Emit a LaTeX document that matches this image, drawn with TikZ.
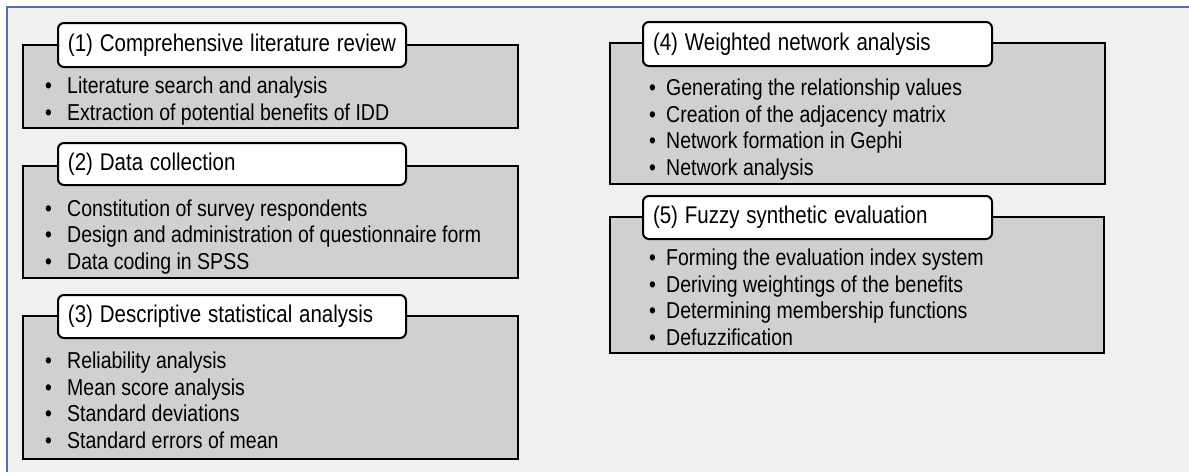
\documentclass[tikz,border=0pt]{standalone}
\usepackage{fontspec}
\setmainfont{Liberation Sans}
\definecolor{framecol}{HTML}{5070B0}
\definecolor{panelbg}{HTML}{F0F0F0}
\definecolor{boxgray}{HTML}{D1CFD1}
\tikzset{
  x=1pt, y=-1pt,
  graybox/.style={draw=black, line width=2.6pt, fill=boxgray, anchor=north west, inner sep=0pt, outer sep=0pt},
  titlebox/.style={draw=black, line width=2pt, fill=white, rounded corners=6pt, anchor=north west, inner xsep=5pt, inner ysep=0pt, align=left, font=\fontsize{20.5}{24}\selectfont},
  itemlist/.style={anchor=base west, inner sep=0pt, font=\fontsize{19.5}{22.35}\selectfont},
}
\newcommand{\lbul}{\makebox[22pt][l]{\textbullet}}
\newcommand{\rbul}{\makebox[17pt][l]{\textbullet}}
\newcommand{\ttl}[1]{\hspace*{5pt}\scalebox{1}[1.18]{#1}}
\newcommand{\lst}[1]{\scalebox{1}[1.18]{\parbox[b]{440pt}{\raggedright #1}}}
\begin{document}
\begin{tikzpicture}
\useasboundingbox (0,0) rectangle (1189,472);
\fill[white] (0,0) rectangle (1189,472);
\fill[panelbg] (7,7) rectangle (1189,472);
\draw[framecol, line width=1.5pt] (7,472) -- (7,7) -- (1189,7);

% (1)
\node[graybox, minimum width=495pt, minimum height=83pt] (b1) at (23,45) {};
\node[titlebox, minimum width=348pt, text width=338pt, minimum height=44pt] (t1) at (57,22) {\ttl{(1) Comprehensive literature review}};
\node[itemlist] (l1) at (45,120) {\lst{\lbul Literature search and analysis\\ \lbul Extraction of potential benefits of IDD}};

% (2)
\node[graybox, minimum width=495pt, minimum height=112pt] (b2) at (23,166) {};
\node[titlebox, minimum width=348pt, text width=338pt, minimum height=42pt] (t2) at (57,142) {\ttl{(2) Data collection}};
\node[itemlist] (l2) at (45,269) {\lst{\lbul Constitution of survey respondents\\ \lbul Design and administration of questionnaire form\\ \lbul Data coding in SPSS}};

% (3)
\node[graybox, minimum width=495pt, minimum height=143pt] (b3) at (23,316) {};
\node[titlebox, minimum width=348pt, text width=338pt, minimum height=43pt] (t3) at (57,294) {\ttl{(3) Descriptive statistical analysis}};
\node[itemlist] (l3) at (45,448) {\lst{\lbul Reliability analysis\\ \lbul Mean score analysis\\ \lbul Standard deviations\\ \lbul Standard errors of mean}};

% (4)
\node[graybox, minimum width=495pt, minimum height=141pt] (b4) at (610,43) {};
\node[titlebox, minimum width=349pt, text width=339pt, minimum height=44pt] (t4) at (642,21) {\ttl{(4) Weighted network analysis}};
\node[itemlist] (l4) at (649,175) {\lst{\rbul Generating the relationship values\\ \rbul Creation of the adjacency matrix\\ \rbul Network formation in Gephi\\ \rbul Network analysis}};

% (5)
\node[graybox, minimum width=494pt, minimum height=136pt] (b5) at (610,217) {};
\node[titlebox, minimum width=349pt, text width=339pt, minimum height=43pt] (t5) at (642,195) {\ttl{(5) Fuzzy synthetic evaluation}};
\node[itemlist] (l5) at (649,345) {\lst{\rbul Forming the evaluation index system\\ \rbul Deriving weightings of the benefits\\ \rbul Determining membership functions\\ \rbul Defuzzification}};
\end{tikzpicture}
\end{document}
